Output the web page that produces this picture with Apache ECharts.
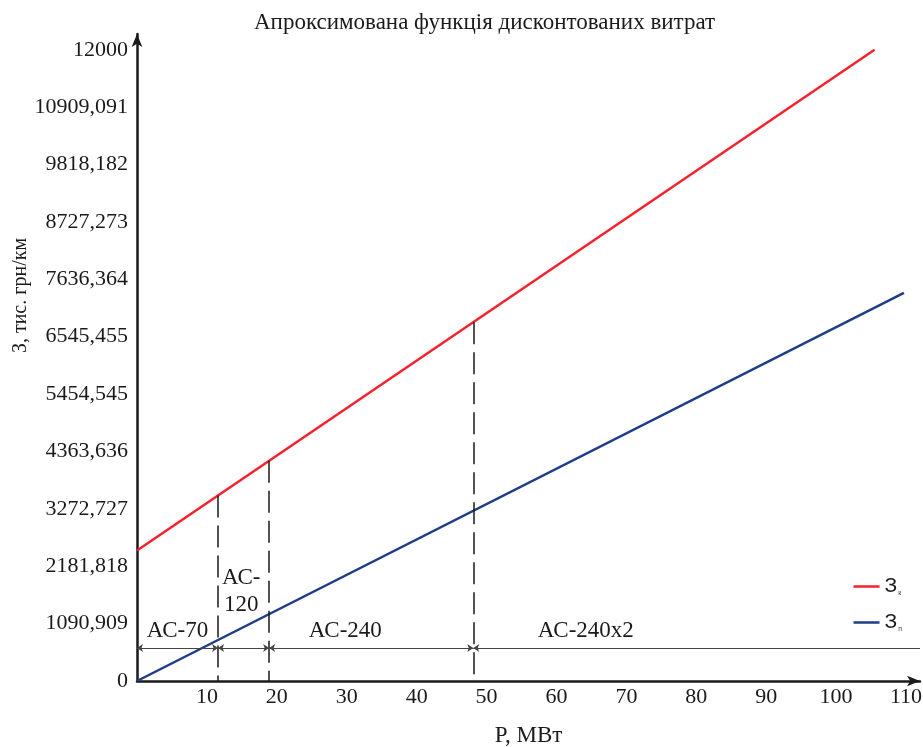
<!DOCTYPE html>
<html>
<head>
<meta charset="utf-8">
<script src="https://cdn.jsdelivr.net/npm/echarts@6/dist/echarts.min.js"></script>
<style>
  html, body { margin: 0; background: #fff; }
  #chart { width: 923px; height: 747px; }
</style>
</head>
<body>
<div id="chart"></div>
<script>
// дані графіка
const titleText = 'Апроксимована функція дисконтованих витрат';
const seriesNames = ['Зк', 'Зп'];
const costUpper = [[0, 2480], [105.5, 12000]];
const costLower = [[0, 0], [109.7, 7380]];
const yStep = 12000 / 11;
const yTickLabels = ['0', '1090,909', '2181,818', '3272,727', '4363,636', '5454,545',
  '6545,455', '7636,364', '8727,273', '9818,182', '10909,091', '12000'];
const zoneBounds = [0, 11.6, 18.9, 48.1, 112];
const zoneNames = ['АС-70', 'АС-\n120', 'АС-240', 'АС-240х2'];
const zoneLabelAt = [[5.8, 960], [14.9, 1700], [29.8, 960], [64.2, 960]];
const dimLevel = 627;

const serif = '"Liberation Serif", "DejaVu Serif", serif';

// значення верхньої прямої в точці p
const upperAt = (p) => {
  const [a, b] = costUpper;
  return a[1] + (b[1] - a[1]) * (p - a[0]) / (b[0] - a[0]);
};

const dashLines = zoneBounds.slice(1, 4).map((b) => [
  { coord: [b, upperAt(b)] },
  { coord: [b, 0] },
]);

const dimLines = zoneBounds.slice(0, 4).map((b, i) => [
  { coord: [b, dimLevel], symbol: 'arrow' },
  { coord: [zoneBounds[i + 1], dimLevel], symbol: i === 3 ? 'none' : 'arrow' },
]);

const chart = echarts.init(document.getElementById('chart'));

chart.setOption({
  animation: false,
  backgroundColor: '#fff',
  title: {
    text: titleText,
    left: 249,
    top: 6,
    textStyle: { fontFamily: serif, fontSize: 23, fontWeight: 'normal', color: '#1a1a1a' },
  },
  legend: {
    data: seriesNames,
    orient: 'vertical',
    right: 16,
    top: 571,
    itemGap: 15,
    icon: 'rect',
    itemWidth: 26,
    itemHeight: 2.5,
    formatter: (name) => `{m|З}{s|${name.slice(1)}}`,
    textStyle: {
      rich: {
        m: { fontFamily: '"Liberation Sans", Arial, sans-serif', fontSize: 21, color: '#1a1a1a' },
        s: { fontFamily: '"Liberation Sans", Arial, sans-serif', fontSize: 7, color: '#444', verticalAlign: 'bottom', padding: [9, 0, 0, 1] },
      },
    },
  },
  grid: { left: 137, right: 3, top: 34, bottom: 66, outerBoundsMode: 'none', containLabel: false },
  xAxis: {
    type: 'value',
    min: 0,
    max: 112,
    interval: 10,
    name: 'P, МВт',
    nameLocation: 'middle',
    nameGap: 43,
    nameTextStyle: { fontFamily: serif, fontSize: 23, color: '#1a1a1a' },
    axisLine: { lineStyle: { color: '#1a1a1a', width: 2.5 }, symbol: ['none', 'arrow'], symbolSize: [8, 13] },
    axisTick: { show: false },
    splitLine: { show: false },
    axisLabel: {
      showMinLabel: false,
      showMaxLabel: false,
      margin: 5,
      fontFamily: serif,
      fontSize: 22,
      color: '#1a1a1a',
    },
  },
  yAxis: {
    type: 'value',
    min: 0,
    max: 12300,
    interval: yStep,
    name: 'З, тис. грн/км',
    nameLocation: 'middle',
    nameRotate: 90,
    nameGap: 106,
    nameMoveOverlap: false,
    nameTextStyle: { fontFamily: serif, fontSize: 20, color: '#1a1a1a', padding: [0, 0, 0, 124] },
    axisLine: { lineStyle: { color: '#1a1a1a', width: 2.5 }, symbol: ['none', 'arrow'], symbolSize: [8, 13] },
    axisTick: { show: false },
    splitLine: { show: false },
    axisLabel: {
      showMaxLabel: false,
      margin: 9,
      fontFamily: serif,
      fontSize: 22,
      color: '#1a1a1a',
      formatter: (v) => {
        const i = Math.round(v / yStep);
        return Math.abs(v - i * yStep) < 0.5 ? yTickLabels[i] : '';
      },
    },
  },
  series: [
    {
      name: seriesNames[0],
      type: 'line',
      data: costUpper,
      showSymbol: false,
      symbol: 'none',
      silent: true,
      color: '#f5222d',
      lineStyle: { color: '#f5222d', width: 2.5 },
      z: 3,
      markLine: {
        silent: true,
        symbol: ['none', 'none'],
        label: { show: false },
        lineStyle: { color: '#1a1a1a', width: 1.5, type: [22, 8] },
        data: dashLines,
      },
    },
    {
      name: seriesNames[1],
      type: 'line',
      data: costLower,
      showSymbol: false,
      symbol: 'none',
      silent: true,
      color: '#1f3c88',
      lineStyle: { color: '#1f3c88', width: 2.5 },
      z: 3,
    },
    {
      type: 'scatter',
      silent: true,
      symbolSize: 0,
      itemStyle: { opacity: 1 },
      data: zoneNames.map((n, i) => ({ name: n, value: zoneLabelAt[i] })),
      label: {
        show: true,
        position: 'inside',
        formatter: (p) => p.name,
        fontFamily: serif,
        fontSize: 23,
        lineHeight: 27,
        color: '#1a1a1a',
      },
      markLine: {
        silent: true,
        symbolSize: 6,
        label: { show: false },
        lineStyle: { color: '#444', width: 1, type: 'solid', opacity: 1 },
        data: dimLines,
      },
    },
  ],
});
</script>
</body>
</html>
